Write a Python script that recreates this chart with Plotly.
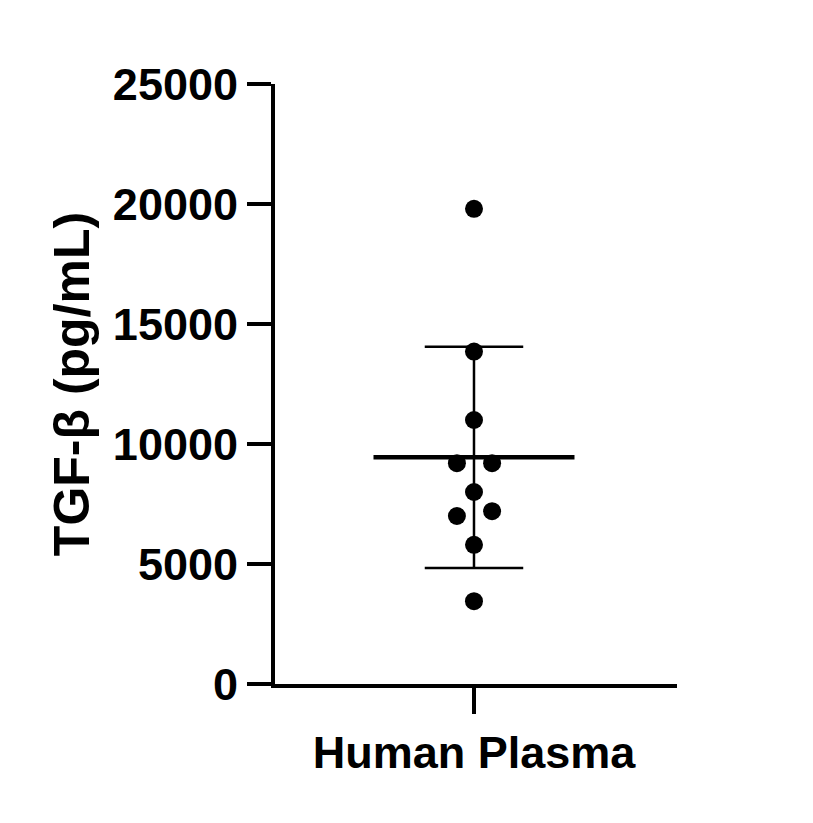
import plotly.graph_objects as go

category = "Human Plasma"
values = [19800, 13850, 11000, 9200, 9200, 8000, 7000, 7200, 5800, 3450]
jitter = [0, 0, 0, -0.085, 0.09, 0, -0.085, 0.09, 0, 0]
mean_value = 9450
sd_upper = 14050
sd_lower = 4830

F = dict(family="Liberation Sans, Arial", size=45, color="black")
fig = go.Figure()
fig.add_trace(go.Scatter(x=[0, 0], y=[sd_lower, sd_upper], mode="lines",
                         line=dict(color="black", width=2.5), showlegend=False))
for yv in (sd_lower, sd_upper):
    fig.add_trace(go.Scatter(x=[-0.245, 0.245], y=[yv, yv], mode="lines",
                             line=dict(color="black", width=2.5), showlegend=False))
fig.add_trace(go.Scatter(x=[-0.5, 0.5], y=[mean_value, mean_value], mode="lines",
                         line=dict(color="black", width=4.5), showlegend=False))
fig.add_trace(go.Scatter(x=jitter, y=values, mode="markers",
                         marker=dict(color="black", size=18), showlegend=False))

fig.update_layout(
    width=813, height=823, plot_bgcolor="white", paper_bgcolor="white",
    margin=dict(l=267, r=144, t=76, b=147),
    font=F,
)
fig.update_xaxes(range=[-0.99, 1.01], tickvals=[0], ticktext=[f"<b>{category}</b>"],
                 showline=True, linecolor="black", linewidth=4, ticks="outside",
                 ticklen=26, tickwidth=4, tickcolor="black", showgrid=False,
                 zeroline=False, tickfont=F)
fig.update_yaxes(range=[0, 25000], tickvals=[0, 5000, 10000, 15000, 20000, 25000],
                 ticktext=[f"<b>{v}</b>" for v in [0, 5000, 10000, 15000, 20000, 25000]],
                 showline=True, linecolor="black", linewidth=4, ticks="outside",
                 ticklen=24, tickwidth=4, tickcolor="black", showgrid=False,
                 zeroline=False, tickfont=F,
                 title=dict(text="<b>TGF-β (pg/mL)</b>", font=dict(family="Liberation Sans, Arial", size=50, color="black"), standoff=8))
fig.write_html("out.html")
